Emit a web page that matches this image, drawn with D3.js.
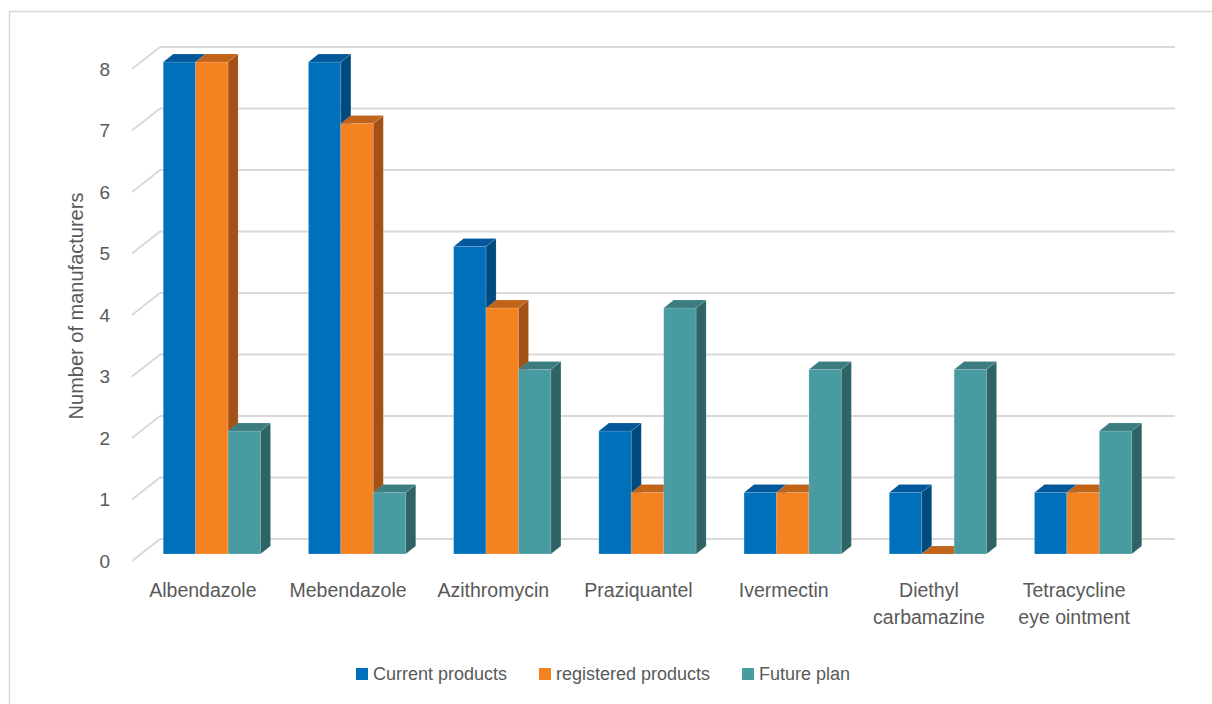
<!DOCTYPE html>
<html><head><meta charset="utf-8">
<script src="https://cdn.jsdelivr.net/npm/d3@7"></script>
<style>
html,body{margin:0;padding:0;background:#fff;}
text{font-family:"Liberation Sans",Arial,sans-serif;fill:#595959;}
</style></head>
<body>
<svg id="chart" width="1212" height="704"></svg>
<script>
const categories = ["Albendazole","Mebendazole","Azithromycin","Praziquantel","Ivermectin","Diethyl\ncarbamazine","Tetracycline\neye ointment"];
const seriesNames = ["Current products","registered products","Future plan"];
const currentProducts = [8,8,5,2,1,1,1];
const registeredProducts = [8,7,4,1,1,0,1];
const futurePlan = [2,1,3,4,3,3,2];
const yTicks = [0,1,2,3,4,5,6,7,8];
const yTitle = "Number of manufacturers";

const seriesValues = [currentProducts, registeredProducts, futurePlan];
const colors = [
  {front:"#0170BA", top:"#02589A", side:"#004A7E"},
  {front:"#F58220", top:"#C2631A", side:"#A45116"},
  {front:"#489BA0", top:"#3B7D81", side:"#2E6466"}
];

const svg = d3.select("#chart");
// outer border
svg.append("rect").attr("x",9.5).attr("y",11.5).attr("width",1220).attr("height",710)
  .attr("fill","none").attr("stroke","#d9d9d9").attr("stroke-width",1.5);

const y = d3.scaleLinear().domain([0,8]).range([554,62]);
const x0 = d3.scaleBand().domain(categories).range([140,1155]).paddingInner(0.33).paddingOuter(0.16);
const x1 = d3.scaleBand().domain(seriesNames).range([0,x0.bandwidth()]);

// wall geometry: back wall offset from bar front plane
const backDX = 19, backDY = -15;     // back wall relative to bar front
const frontDX = -9, frontDY = 7;     // floor front edge relative to bar front
const backLeft = 160, backRight = 1175;
const depthX = 10, depthY = -8;      // bar depth

const grid = svg.append("g");
yTicks.forEach(v=>{
  const yb = y(v)+backDY;
  grid.append("line").attr("x1",backLeft).attr("x2",backRight).attr("y1",yb).attr("y2",yb)
    .attr("stroke","#d9d9d9").attr("stroke-width",2);
  grid.append("line").attr("x1",backLeft).attr("y1",yb)
    .attr("x2",backLeft-28).attr("y2",yb+22)
    .attr("stroke","#d9d9d9").attr("stroke-width",2);
});

// y tick labels
svg.append("g").selectAll("text").data(yTicks).join("text")
  .attr("x",110).attr("y",d=>y(d)+frontDY)
  .attr("dy","0.35em").attr("text-anchor","end")
  .style("font-size","19px").text(d=>d);

// y title
svg.append("text").attr("transform","translate(83,306) rotate(-90)")
  .attr("text-anchor","middle").style("font-size","20px").text(yTitle);

// bars
const bars = svg.append("g");
categories.forEach((c,ci)=>{
  seriesNames.forEach((s,si)=>{
    const v = seriesValues[si][ci];
    const xl = x0(c)+x1(s), xr = xl + x1.bandwidth();
    const yt = y(v), yb = y(0);
    const col = colors[si];
    const g = bars.append("g");
    // front
    g.append("rect").attr("x",xl).attr("y",yt).attr("width",xr-xl).attr("height",yb-yt)
      .attr("fill",col.front).attr("stroke","rgba(255,255,255,0.25)").attr("stroke-width",0.8);
    // top
    g.append("path").attr("d",`M${xl},${yt}L${xl+depthX},${yt+depthY}L${xr+depthX},${yt+depthY}L${xr},${yt}Z`)
      .attr("fill",col.top).attr("stroke","rgba(255,255,255,0.2)").attr("stroke-width",0.6);
    // side
    g.append("path").attr("d",`M${xr},${yt}L${xr+depthX},${yt+depthY}L${xr+depthX},${yb+depthY}L${xr},${yb}Z`)
      .attr("fill",col.side).attr("stroke","rgba(255,255,255,0.2)").attr("stroke-width",0.6);
  });
});

// category labels
const catG = svg.append("g");
categories.forEach(c=>{
  const cx = x0(c)+x0.bandwidth()/2 + frontDX;
  const t = catG.append("text").attr("text-anchor","middle").style("font-size","19.5px");
  c.split("\n").forEach((line,i)=>{
    t.append("tspan").attr("x",cx).attr("y",597+i*27).text(line);
  });
});

// legend
const legendItems = [
  {name:seriesNames[0], sx:356, color:colors[0].front},
  {name:seriesNames[1], sx:539, color:colors[1].front},
  {name:seriesNames[2], sx:742, color:colors[2].front}
];
const lg = svg.append("g");
legendItems.forEach(d=>{
  lg.append("rect").attr("x",d.sx).attr("y",668).attr("width",12).attr("height",12).attr("fill",d.color);
  lg.append("text").attr("x",d.sx+17).attr("y",674).attr("dy","0.35em").style("font-size","18px").text(d.name);
});
</script>
</body></html>
